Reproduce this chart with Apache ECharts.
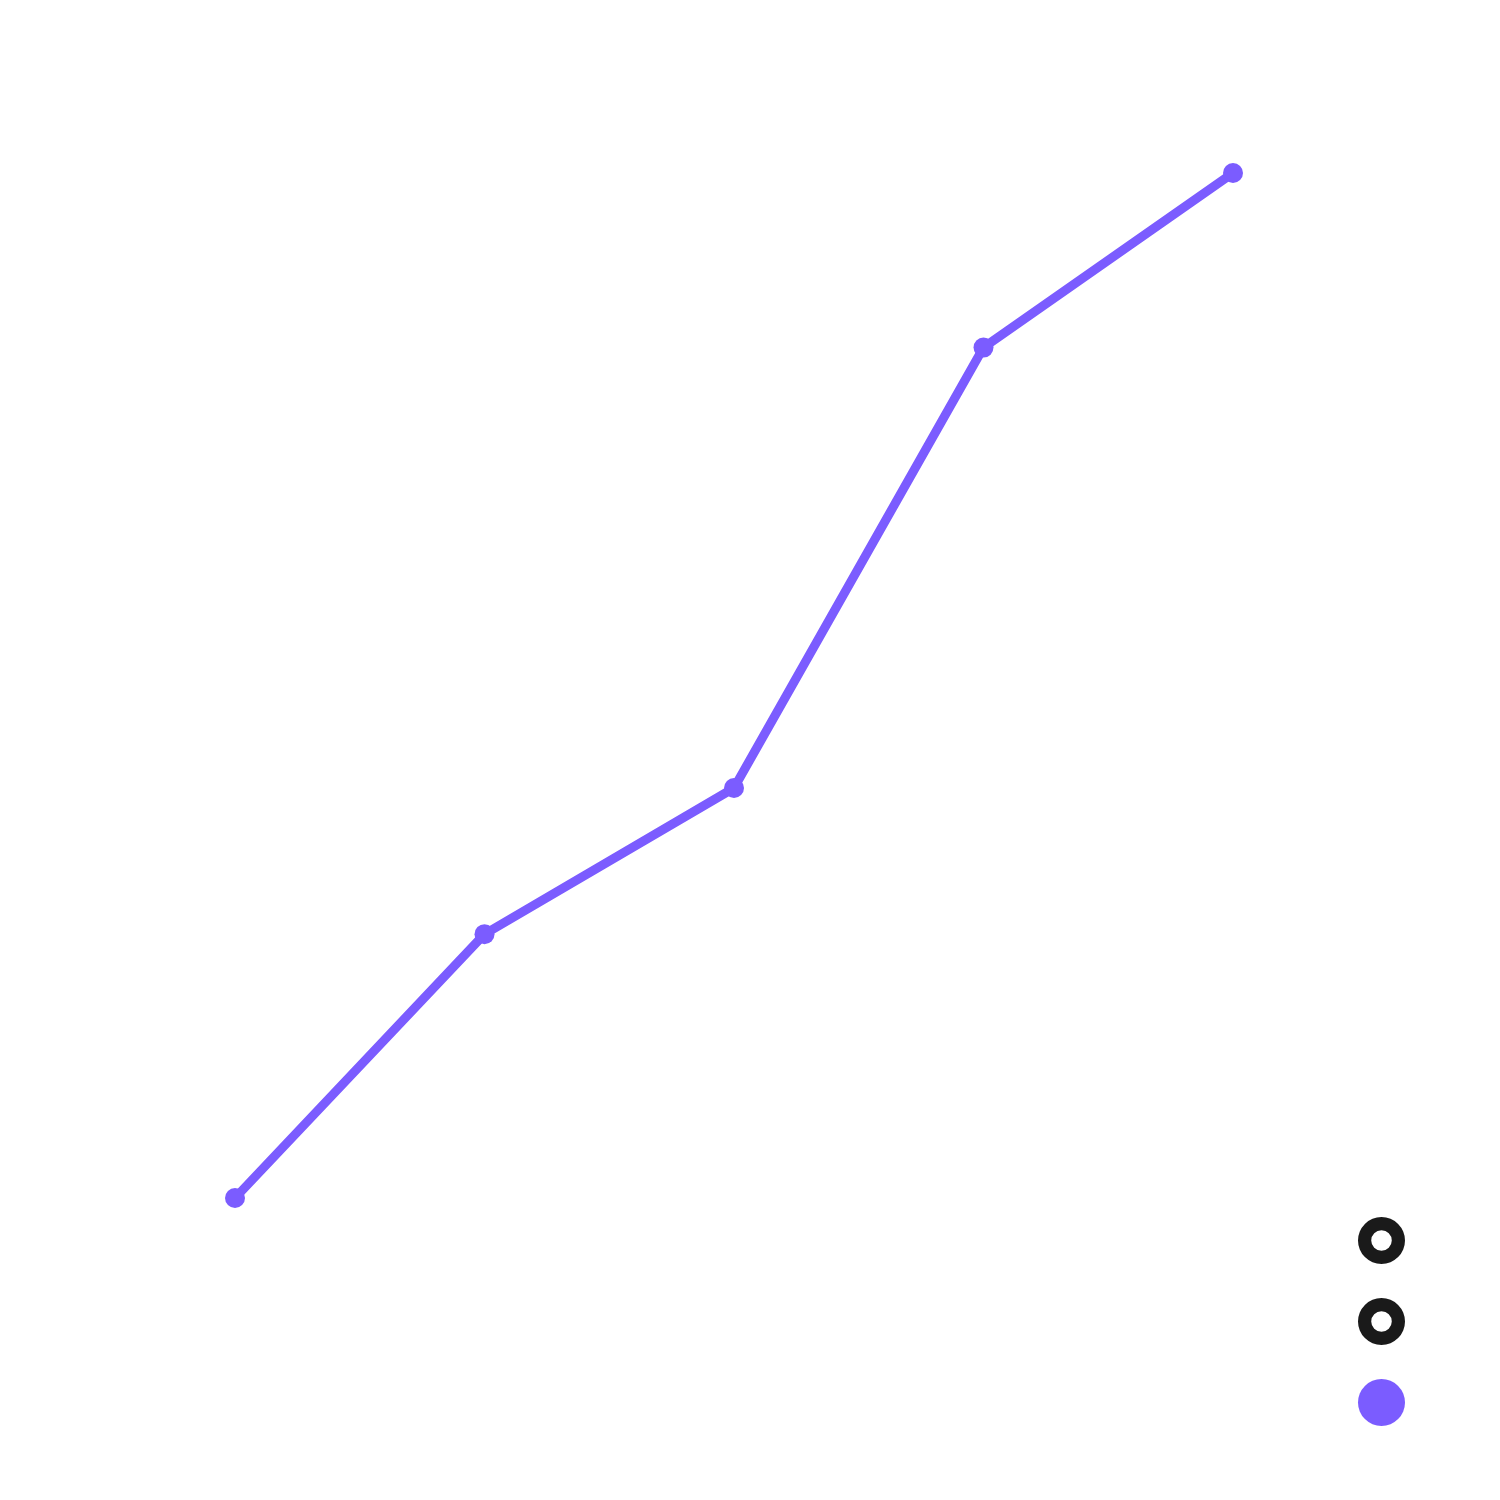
<!DOCTYPE html>
<html>
<head>
<meta charset="utf-8">
<script src="https://cdn.jsdelivr.net/npm/echarts@6/dist/echarts.min.js"></script>
<style>html,body{margin:0;padding:0;background:#fff;}#chart{width:1500px;height:1500px;}</style>
</head>
<body>
<div id="chart"></div>
<script>
const categories = ['1', '2', '3', '4', '5'];
const mainValues = [12, 38, 52.4, 95.8, 113];
const seriesNames = ['Series A', 'Series B', 'Series C'];
const seriesColors = ['#1a1a1a', '#1a1a1a', '#7b5cff'];

const ringIcon = 'path://M24,0A24,24,0,1,1,24,48A24,24,0,1,1,24,0ZM24,13.5A10.5,10.5,0,1,0,24,34.5A10.5,10.5,0,1,0,24,13.5Z';

const chart = echarts.init(document.getElementById('chart'));
chart.setOption({
  backgroundColor: '#ffffff',
  animation: false,
  grid: { left: 235, right: 267, top: 173, bottom: 302 },
  xAxis: {
    type: 'category',
    data: categories,
    boundaryGap: false,
    axisLine: { show: false }, axisTick: { show: false }, axisLabel: { show: false }, splitLine: { show: false }
  },
  yAxis: {
    type: 'value',
    min: 12, max: 113,
    axisLine: { show: false }, axisTick: { show: false }, axisLabel: { show: false }, splitLine: { show: false }
  },
  legend: {
    orient: 'vertical',
    right: 90,
    bottom: 69,
    itemWidth: 47,
    itemHeight: 47,
    itemGap: 34,
    formatter: function () { return ''; },
    selectedMode: false,
    data: [
      { name: seriesNames[0], icon: ringIcon, itemStyle: { color: seriesColors[0], borderWidth: 0 } },
      { name: seriesNames[1], icon: ringIcon, itemStyle: { color: seriesColors[1], borderWidth: 0 } },
      { name: seriesNames[2], icon: 'circle', itemStyle: { color: seriesColors[2], borderWidth: 0 } }
    ]
  },
  series: [
    { name: seriesNames[0], type: 'line', data: [], color: seriesColors[0] },
    { name: seriesNames[1], type: 'line', data: [], color: seriesColors[1] },
    {
      name: seriesNames[2], type: 'line', data: mainValues, color: seriesColors[2],
      symbol: 'circle', symbolSize: 20,
      lineStyle: { width: 9, color: seriesColors[2] },
      itemStyle: { color: seriesColors[2] }
    }
  ]
});
</script>
</body>
</html>
